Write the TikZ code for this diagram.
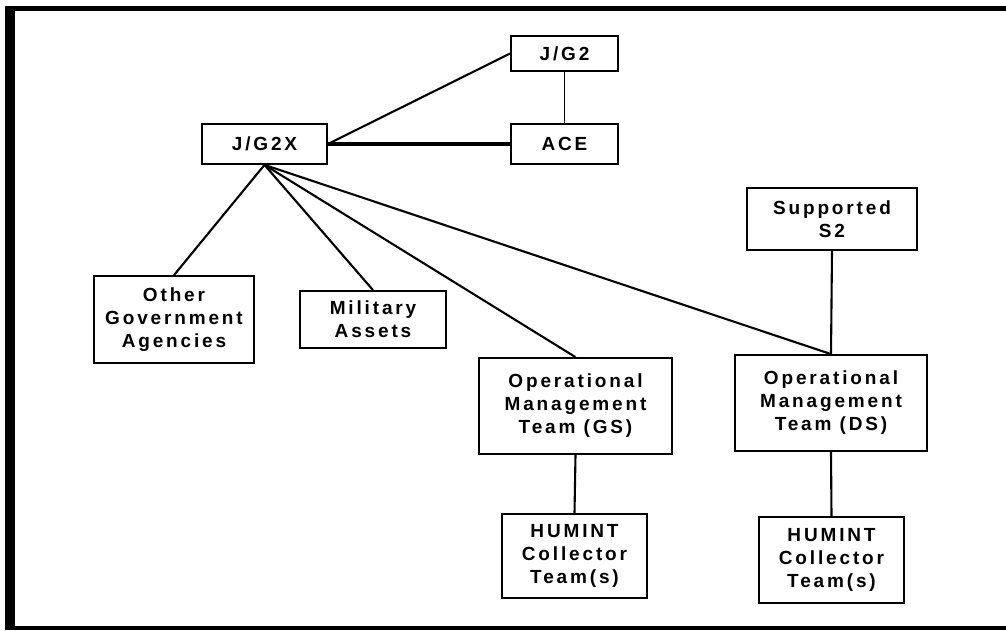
\documentclass[tikz,border=0pt]{standalone}
\usepackage{fontspec}
\setmainfont{Liberation Sans}[LetterSpace=15,BoldFont={Liberation Sans Bold}]
\begin{document}
\begin{tikzpicture}[x=1pt,y=-1pt,
  box/.style={draw=black, line width=1.8pt, rectangle, align=center, inner sep=0pt,
    font=\fontsize{19}{23}\selectfont\bfseries},
  conn/.style={line width=2.1pt, black},
  thin/.style={line width=1.6pt, black},
  thick/.style={line width=3.8pt, black}]
\useasboundingbox (0,0) rectangle (1006,630);
% frame
\fill[black] (5,5.5) rectangle (1006,10.5);
\fill[black] (5,5.5) rectangle (15,630);
\fill[black] (5,626) rectangle (1006,630);
% boxes
\node[box, minimum width=107pt, minimum height=35pt] (jg2) at (564.5,53.5) {J/G2};
\node[box, minimum width=107pt, minimum height=40pt] (ace) at (564.5,144) {ACE};
\node[box, minimum width=125pt, minimum height=40pt] (jg2x) at (264.5,144) {J/G2X};
\node[box, minimum width=170pt, minimum height=62pt] (s2) at (832,219) {Supported\\S2};
\node[box, minimum width=160pt, minimum height=87pt] (oga) at (174,319.5) {Other\\Government\\Agencies};
\node[box, minimum width=146pt, minimum height=57pt] (mil) at (373,319.5) {Military\\Assets};
\node[box, minimum width=193pt, minimum height=96pt] (omtgs) at (575.5,406) {Operational\\Management\\Team (GS)};
\node[box, minimum width=192pt, minimum height=96pt] (omtds) at (831,403) {Operational\\Management\\Team (DS)};
\node[box, minimum width=145pt, minimum height=84pt] (hgs) at (574.5,556) {HUMINT\\Collector\\Team(s)};
\node[box, minimum width=145pt, minimum height=86pt] (hds) at (831.5,560) {HUMINT\\Collector\\Team(s)};
% connectors
\draw[conn] (jg2x.east) -- (jg2.west);
\draw[thick] (jg2x.east) -- (ace.west);
\draw[thin] (jg2.south) -- (ace.north);
\draw[conn] (jg2x.south) -- (oga.north);
\draw[conn] (jg2x.south) -- (mil.north);
\draw[conn] (jg2x.south) -- (omtgs.north);
\draw[conn] (jg2x.south) -- (omtds.north);
\draw[conn] (s2.south) -- (omtds.north);
\draw[conn] (omtgs.south) -- (hgs.north);
\draw[conn] (omtds.south) -- (hds.north);
\end{tikzpicture}
\end{document}
